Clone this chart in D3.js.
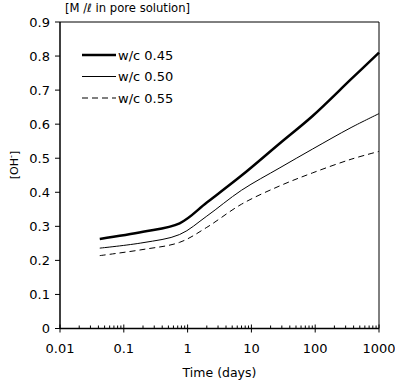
<!DOCTYPE html>
<html>
<head>
<meta charset="utf-8">
<script src="https://cdn.jsdelivr.net/npm/d3@7"></script>
<style>
  body{margin:0;background:#fff;}
  svg text{font-family:"DejaVu Sans",Verdana,sans-serif;font-size:11px;fill:#000;}
</style>
</head>
<body>
<svg id="chart" width="395" height="389"></svg>
<script>
// time in days, [OH-] in M/l
var days = [0.042, 0.2, 0.75, 2, 7, 28, 91, 365, 1000];
var wc045 = [0.263, 0.284, 0.309, 0.37, 0.449, 0.544, 0.624, 0.732, 0.81];
var wc050 = [0.236, 0.252, 0.276, 0.33, 0.406, 0.472, 0.527, 0.59, 0.631];
var wc055 = [0.214, 0.232, 0.253, 0.297, 0.365, 0.419, 0.457, 0.497, 0.52];
var seriesNames = ["w/c 0.45", "w/c 0.50", "w/c 0.55"];
var xTicks = [0.01, 0.1, 1, 10, 100, 1000];
var xTickLabels = ["0.01", "0.1", "1", "10", "100", "1000"];
var yTicks = [0, 0.1, 0.2, 0.3, 0.4, 0.5, 0.6, 0.7, 0.8, 0.9];

var svg = d3.select("#chart"),
    margin = {top: 22, right: 16, bottom: 60.5, left: 60},
    width = +svg.attr("width"),
    height = +svg.attr("height");

var x = d3.scaleLog().domain([0.01, 1000]).range([margin.left, width - margin.right]);
var y = d3.scaleLinear().domain([0, 0.9]).range([height - margin.bottom, margin.top]);

// frame (top + right)
svg.append("path")
  .attr("d", "M" + x(0.01) + "," + y(0.9) + "H" + x(1000) + "V" + y(0))
  .attr("fill", "none").attr("stroke", "#000").attr("stroke-width", 1);

// y axis
var gy = svg.append("g").attr("transform", "translate(" + margin.left + ",0)");
gy.append("line").attr("x1", 0).attr("x2", 0).attr("y1", y(0)).attr("y2", y(0.9))
  .attr("stroke", "#000").attr("stroke-width", 1.5);
gy.selectAll(".yt").data(yTicks).enter().append("line")
  .attr("x1", -5).attr("x2", 0)
  .attr("y1", function(d){ return y(d); }).attr("y2", function(d){ return y(d); })
  .attr("stroke", "#000");
gy.selectAll(".yl").data(yTicks).enter().append("text")
  .attr("x", -10).attr("y", function(d){ return y(d); })
  .attr("dy", "0.35em").attr("text-anchor", "end")
  .style("font-size", "13px")
  .text(function(d){ return d === 0 ? "0" : d3.format(".1f")(d); });

// x axis
var gx = svg.append("g").attr("transform", "translate(0," + y(0) + ")");
gx.append("line").attr("x1", x(0.01)).attr("x2", x(1000)).attr("y1", 0).attr("y2", 0)
  .attr("stroke", "#000").attr("stroke-width", 1.5);
var minor = [];
xTicks.slice(0, -1).forEach(function(d){
  for (var k = 2; k < 10; k++) minor.push(d * k);
});
gx.selectAll(".xm").data(minor).enter().append("line")
  .attr("x1", function(d){ return x(d); }).attr("x2", function(d){ return x(d); })
  .attr("y1", -3).attr("y2", 0).attr("stroke", "#000");
gx.selectAll(".xt").data(xTicks).enter().append("line")
  .attr("x1", function(d){ return x(d); }).attr("x2", function(d){ return x(d); })
  .attr("y1", -4).attr("y2", 4).attr("stroke", "#000");
gx.selectAll(".xl").data(xTicks).enter().append("text")
  .attr("x", function(d){ return x(d); }).attr("y", 24)
  .attr("text-anchor", "middle")
  .style("font-size", "13px")
  .text(function(d, i){ return xTickLabels[i]; });

// axis titles
svg.append("text").attr("x", (x(0.01) + x(1000)) / 2).attr("y", 377)
  .attr("text-anchor", "middle").style("font-size", "12.5px").text("Time (days)");
svg.append("text").attr("transform", "translate(18,165) rotate(-90)")
  .attr("text-anchor", "middle")
  .html('[OH<tspan dy="-4" font-size="8">-</tspan><tspan dy="4">]</tspan>');
svg.append("text").attr("x", 65).attr("y", 12).style("font-size", "11.6px")
  .text("[M /\u2113  in pore solution]");

// lines
var line = d3.line()
  .x(function(d){ return x(d[0]); })
  .y(function(d){ return y(d[1]); })
  .curve(d3.curveCatmullRom.alpha(0.5));
var styles = [
  {w: 2.5, dash: null},
  {w: 1, dash: null},
  {w: 1, dash: "6,4"}
];
[wc045, wc050, wc055].forEach(function(vals, i){
  svg.append("path")
    .datum(days.map(function(t, j){ return [t, vals[j]]; }))
    .attr("d", line)
    .attr("fill", "none").attr("stroke", "#000")
    .attr("stroke-width", styles[i].w)
    .attr("stroke-dasharray", styles[i].dash);
});

// legend
var lg = svg.append("g");
seriesNames.forEach(function(name, i){
  var ly = 55 + i * 21.5;
  lg.append("line").attr("x1", 82).attr("x2", 116).attr("y1", ly).attr("y2", ly)
    .attr("stroke", "#000").attr("stroke-width", styles[i].w)
    .attr("stroke-dasharray", styles[i].dash);
  lg.append("text").attr("x", 118).attr("y", ly).attr("dy", "0.35em")
    .style("font-size", "13px").text(name);
});
</script>
</body>
</html>
